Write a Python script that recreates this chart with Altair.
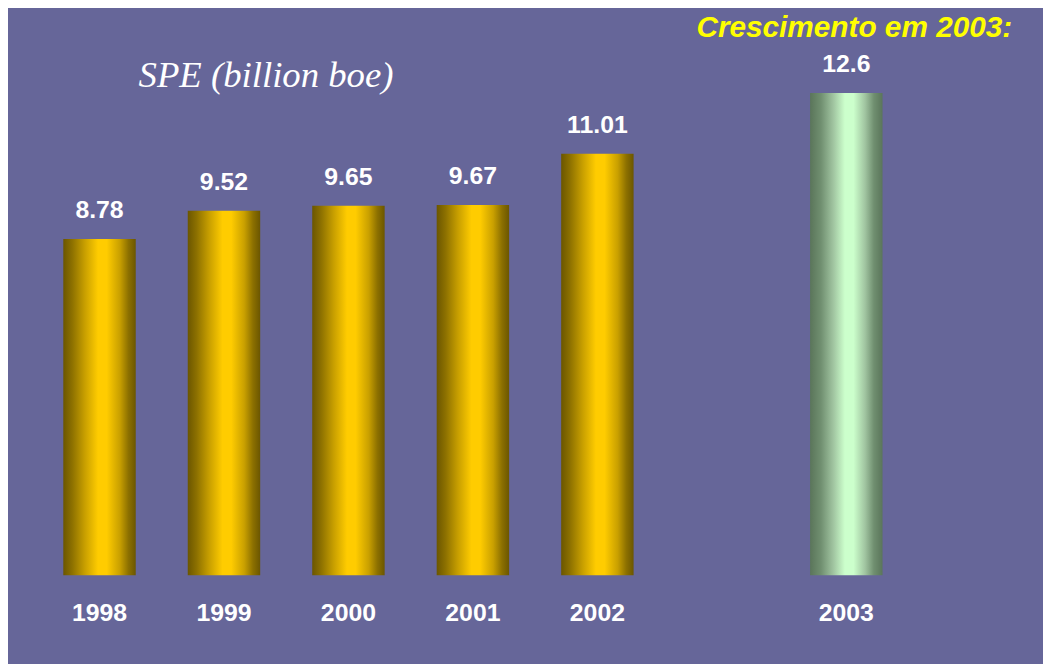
import altair as alt
import pandas as pd

years = ["1998", "1999", "2000", "2001", "2002", "2003"]
values = [8.78, 9.52, 9.65, 9.67, 11.01, 12.6]
labels = ["8.78", "9.52", "9.65", "9.67", "11.01", "12.6"]
groups = ["hist", "hist", "hist", "hist", "hist", "new"]
x_domain = ["1998", "1999", "2000", "2001", "2002", "gap", "2003"]

df = pd.DataFrame({"year": years, "value": values, "group": groups, "label": labels})

BG = "#666699"
xs = alt.Scale(domain=x_domain, range=[29.5, 907.5], paddingInner=0, paddingOuter=0)
ys = alt.Scale(domain=[0, 14], range=[569, 29])
X = alt.X("year:N", scale=xs, axis=None)
Y = alt.Y("value:Q", scale=ys, axis=None)

gold = alt.Gradient(
    gradient="linear", x1=0, x2=1, y1=0, y2=0,
    stops=[
        alt.GradientStop(color="#6b5600", offset=0),
        alt.GradientStop(color="#8c7000", offset=0.12),
        alt.GradientStop(color="#c9a000", offset=0.3),
        alt.GradientStop(color="#ffcc00", offset=0.48),
        alt.GradientStop(color="#ffcc00", offset=0.6),
        alt.GradientStop(color="#c9a000", offset=0.78),
        alt.GradientStop(color="#8c7000", offset=0.9),
        alt.GradientStop(color="#6b5600", offset=1),
    ],
)
green = alt.Gradient(
    gradient="linear", x1=0, x2=1, y1=0, y2=0,
    stops=[
        alt.GradientStop(color="#5a755a", offset=0),
        alt.GradientStop(color="#708f70", offset=0.15),
        alt.GradientStop(color="#a0c4a0", offset=0.32),
        alt.GradientStop(color="#ccffcc", offset=0.48),
        alt.GradientStop(color="#ccffcc", offset=0.6),
        alt.GradientStop(color="#a0c4a0", offset=0.76),
        alt.GradientStop(color="#708f70", offset=0.88),
        alt.GradientStop(color="#5a755a", offset=1),
    ],
)

base = alt.Chart(df)

bars_gold = base.transform_filter(alt.datum.group == "hist").mark_bar(
    color=gold, size=73).encode(x=X, y=Y)
bars_green = base.transform_filter(alt.datum.group == "new").mark_bar(
    color=green, size=73).encode(x=X, y=Y)

val_labels = base.mark_text(
    font="Liberation Sans", fontWeight="bold", fontSize=25, color="white",
    baseline="alphabetic", dy=-21).encode(x=X, y=Y, text="label:N")

year_labels = base.mark_text(
    font="Liberation Sans", fontWeight="bold", fontSize=25, color="white",
    baseline="alphabetic").encode(x=X, y=alt.value(615), text="year:N")

title_df = pd.DataFrame({"t": ["SPE (billion boe)"]})
title = alt.Chart(title_df).mark_text(
    font="Liberation Serif", fontStyle="italic", fontSize=37, color="white",
    align="center", baseline="alphabetic").encode(
    x=alt.value(260), y=alt.value(77), text="t:N")

sub_df = pd.DataFrame({"t": ["Crescimento em 2003:"]})
subtitle = alt.Chart(sub_df).mark_text(
    font="Liberation Sans", fontStyle="italic", fontWeight="bold", fontSize=30,
    color="#ffff00", align="right", baseline="alphabetic").encode(
    x=alt.value(1012), y=alt.value(27), text="t:N")

chart = alt.layer(bars_gold, bars_green, val_labels, year_labels, title, subtitle).properties(
    width=1043, height=656,
    autosize=alt.AutoSizeParams(type="none"),
    padding=0,
    background=BG,
).configure_view(stroke=None, fill=BG)

chart.save("out.html", embed_options={"renderer": "svg", "actions": False})
